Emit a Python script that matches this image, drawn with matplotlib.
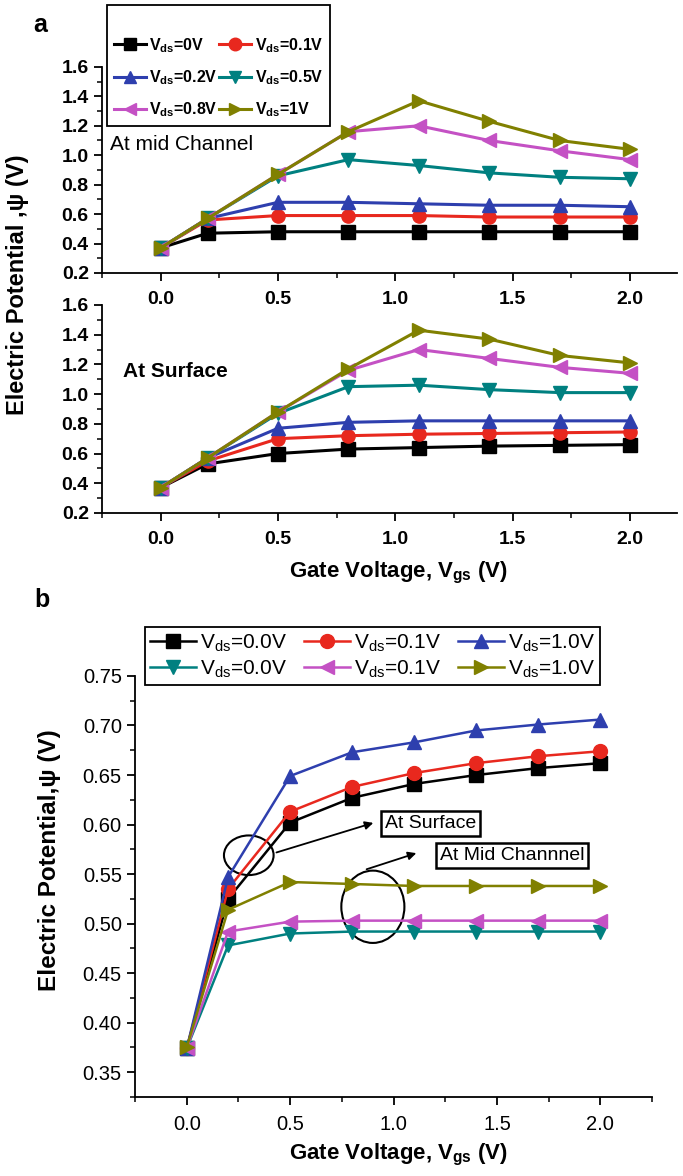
import matplotlib
matplotlib.use("Agg")
import matplotlib.pyplot as plt
from matplotlib.patches import Ellipse
from matplotlib.ticker import MultipleLocator

plt.rcParams["font.family"] = ["Liberation Sans", "DejaVu Sans"]
plt.rcParams["mathtext.fontset"] = "custom"
plt.rcParams["mathtext.rm"] = "Liberation Sans"
plt.rcParams["mathtext.bf"] = "Liberation Sans:bold"

# gate voltage points (shared by all series)
vgs = [0.0, 0.2, 0.5, 0.8, 1.1, 1.4, 1.7, 2.0]

# panel a, mid channel
mid_0 = [0.37, 0.47, 0.48, 0.48, 0.48, 0.48, 0.48, 0.48]
mid_01 = [0.37, 0.56, 0.59, 0.59, 0.59, 0.58, 0.58, 0.58]
mid_02 = [0.37, 0.57, 0.68, 0.68, 0.67, 0.66, 0.66, 0.65]
mid_05 = [0.37, 0.57, 0.86, 0.97, 0.93, 0.88, 0.85, 0.84]
mid_08 = [0.37, 0.57, 0.87, 1.16, 1.20, 1.10, 1.03, 0.97]
mid_1 = [0.37, 0.57, 0.87, 1.16, 1.37, 1.23, 1.10, 1.04]

# panel a, surface
surf_0 = [0.37, 0.53, 0.60, 0.63, 0.64, 0.65, 0.655, 0.66]
surf_01 = [0.37, 0.55, 0.70, 0.72, 0.73, 0.735, 0.74, 0.745]
surf_02 = [0.37, 0.57, 0.77, 0.81, 0.82, 0.82, 0.82, 0.82]
surf_05 = [0.37, 0.57, 0.87, 1.05, 1.06, 1.03, 1.01, 1.01]
surf_08 = [0.37, 0.57, 0.88, 1.16, 1.30, 1.24, 1.18, 1.14]
surf_1 = [0.37, 0.57, 0.88, 1.17, 1.43, 1.37, 1.26, 1.21]

# panel b
b_surf_0 = [0.374, 0.525, 0.602, 0.627, 0.641, 0.650, 0.657, 0.662]
b_surf_01 = [0.374, 0.535, 0.613, 0.638, 0.652, 0.662, 0.669, 0.674]
b_surf_1 = [0.374, 0.547, 0.649, 0.673, 0.683, 0.695, 0.701, 0.706]
b_mid_0 = [0.374, 0.478, 0.490, 0.492, 0.492, 0.492, 0.492, 0.492]
b_mid_01 = [0.374, 0.492, 0.502, 0.503, 0.503, 0.503, 0.503, 0.503]
b_mid_1 = [0.375, 0.514, 0.542, 0.540, 0.538, 0.538, 0.538, 0.538]

labels_a = ["0V", "0.1V", "0.2V", "0.5V", "0.8V", "1V"]
labels_b = ["0.0V", "0.1V", "1.0V", "0.0V", "0.1V", "1.0V"]

colors = ["black", "#e8281e", "#2e3fae", "#008080", "#c451c4", "#808000"]
markers = ["s", "o", "^", "v", "<", ">"]


def style(ax, major_y, minor_y, bold, size):
    for s in ["top", "right"]:
        ax.spines[s].set_visible(False)
    for s in ["left", "bottom"]:
        ax.spines[s].set_linewidth(1.3)
    ax.xaxis.set_major_locator(MultipleLocator(0.5))
    ax.xaxis.set_minor_locator(MultipleLocator(0.25))
    ax.yaxis.set_major_locator(MultipleLocator(major_y))
    ax.yaxis.set_minor_locator(MultipleLocator(minor_y))
    ax.tick_params(which="major", direction="out", length=6, width=1.3, labelsize=size)
    ax.tick_params(axis="x", which="major", pad=7)
    ax.tick_params(which="minor", direction="out", length=3.5, width=1.1)
    if bold:
        for t in ax.get_xticklabels() + ax.get_yticklabels():
            t.set_fontweight("bold")


fig = plt.figure(figsize=(6.83, 11.76), dpi=100)

# ---- panel a ----
ax1 = fig.add_axes([0.1493, 0.7679, 0.842, 0.1752])
ax2 = fig.add_axes([0.1493, 0.5638, 0.842, 0.1769])

handles_a = []
for ys, c, m, lab in zip([mid_0, mid_01, mid_02, mid_05, mid_08, mid_1], colors, markers, labels_a):
    h, = ax1.plot(vgs, ys, color=c, marker=m, markersize=9.5, linewidth=2.2,
                  label=r"V$_{\mathbf{ds}}$=" + lab)
    handles_a.append(h)
for ys, c, m in zip([surf_0, surf_01, surf_02, surf_05, surf_08, surf_1], colors, markers):
    ax2.plot(vgs, ys, color=c, marker=m, markersize=9.5, linewidth=2.2)

for ax in (ax1, ax2):
    ax.set_xlim(-0.25, 2.2)
    ax.set_ylim(0.2, 1.6)
    ax.set_yticks([0.2, 0.4, 0.6, 0.8, 1.0, 1.2, 1.4, 1.6])
    style(ax, 0.2, 0.1, True, 14)

ax1.text(-0.215, 1.07, "At mid Channel", fontsize=15, va="center", ha="left")
ax2.text(-0.16, 1.15, "At Surface", fontsize=15, fontweight="bold", va="center", ha="left")

order_a = [0, 2, 4, 1, 3, 5]
leg = ax1.legend([handles_a[i] for i in order_a], [handles_a[i].get_label() for i in order_a],
                 ncol=2, loc="upper left", bbox_to_anchor=(0.1567, 0.9957),
                 bbox_transform=fig.transFigure, borderaxespad=0, fancybox=False,
                 edgecolor="black", framealpha=1, prop={"size": 11.5, "weight": "bold"},
                 handlelength=2.0, handletextpad=0.2, columnspacing=0.1,
                 labelspacing=0.85, borderpad=0.45, markerscale=0.95,
                 title=" ", title_fontsize=7)
leg.get_frame().set_linewidth(1.3)

fig.text(18 / 683, 1 - 285 / 1176, "Electric Potential ,\u03c8 (V)", rotation=90, fontsize=17,
         fontweight="bold", ha="center", va="center")
fig.text(330 / 683 + 0.1, 1 - 573 / 1176, r"Gate Voltage, V$_{\mathbf{gs}}$ (V)", fontsize=16,
         fontweight="bold", ha="center", va="center")
fig.text(40 / 683, 1 - 25 / 1176, "a", fontsize=18, fontweight="bold", ha="center", va="center")

# ---- panel b ----
ax3 = fig.add_axes([0.1977, 0.0672, 0.757, 0.358])
series_b = [b_surf_0, b_surf_01, b_surf_1, b_mid_0, b_mid_01, b_mid_1]
handles_b = []
for ys, c, m, lab in zip(series_b, colors, markers, labels_b):
    h, = ax3.plot(vgs, ys, color=c, marker=m, markersize=10, linewidth=1.8,
                  label=r"V$_{\rm ds}$=" + lab)
    handles_b.append(h)

ax3.set_xlim(-0.25, 2.25)
ax3.set_ylim(0.325, 0.75)
ax3.set_yticks([0.35, 0.40, 0.45, 0.50, 0.55, 0.60, 0.65, 0.70, 0.75])
style(ax3, 0.05, 0.025, False, 14.5)

order_b = [0, 3, 1, 4, 2, 5]
leg_b = ax3.legend([handles_b[i] for i in order_b], [handles_b[i].get_label() for i in order_b],
                   ncol=3, loc="upper left", bbox_to_anchor=(145 / 683, 1 - 627 / 1176),
                   bbox_transform=fig.transFigure, borderaxespad=0, fancybox=False,
                   edgecolor="black", framealpha=1, fontsize=15,
                   handlelength=2.2, handletextpad=0.2, columnspacing=0.8,
                   labelspacing=0.2, borderpad=0.25)
leg_b.get_frame().set_linewidth(1.3)

ax3.add_patch(Ellipse((0.30, 0.569), 0.24, 0.04, fill=False, edgecolor="black", linewidth=1.5))
ax3.add_patch(Ellipse((0.90, 0.517), 0.305, 0.073, fill=False, edgecolor="black", linewidth=1.5))
ax3.annotate("", xy=(0.915, 0.6025), xytext=(0.421, 0.571),
             arrowprops=dict(arrowstyle="-|>", color="black", lw=1.3, mutation_scale=12))
ax3.annotate("", xy=(1.123, 0.572), xytext=(0.857, 0.554),
             arrowprops=dict(arrowstyle="-|>", color="black", lw=1.3, mutation_scale=12))
ax3.text(1.18, 0.601, "At Surface", fontsize=14, ha="center", va="center",
         bbox=dict(boxstyle="square,pad=0.2", facecolor="white", edgecolor="black", linewidth=1.8))
ax3.text(1.573, 0.569, "At Mid Channnel", fontsize=14, ha="center", va="center",
         bbox=dict(boxstyle="square,pad=0.2", facecolor="white", edgecolor="black", linewidth=1.8))

fig.text(50 / 683, 1 - 860 / 1176, "Electric Potential,\u03c8 (V)", rotation=90, fontsize=17.5,
         fontweight="bold", ha="center", va="center")
fig.text(330 / 683 + 0.1, 1 - 1155 / 1176, r"Gate Voltage, V$_{\mathbf{gs}}$ (V)", fontsize=16,
         fontweight="bold", ha="center", va="center")
fig.text(42 / 683, 1 - 600 / 1176, "b", fontsize=18, fontweight="bold", ha="center", va="center")

fig.savefig("out.png", dpi=100)
